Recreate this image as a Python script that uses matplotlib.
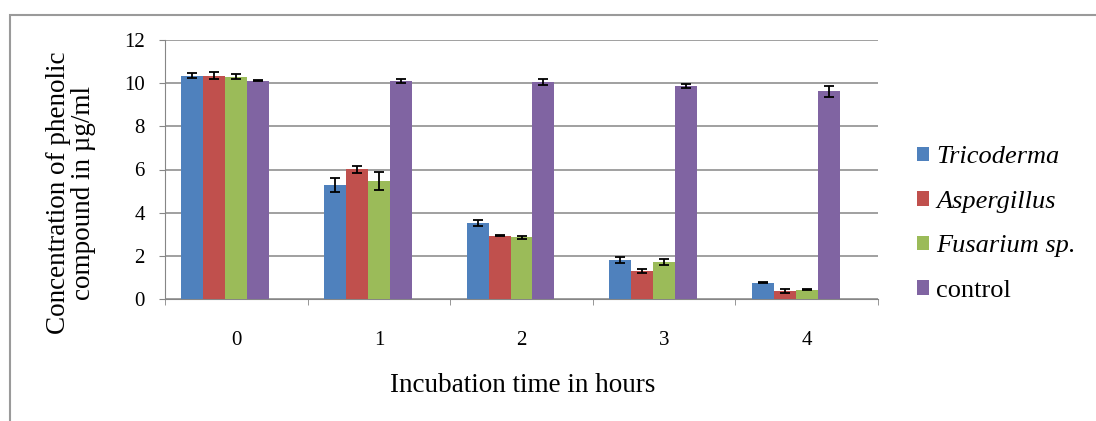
import numpy as np
import matplotlib.pyplot as plt
from matplotlib.patches import Rectangle

hours = ["0", "1", "2", "3", "4"]
series = ["Tricoderma", "Aspergillus", "Fusarium sp.", "control"]
tricoderma = [10.35, 5.29, 3.52, 1.80, 0.75]
aspergillus = [10.35, 6.01, 2.94, 1.31, 0.37]
fusarium = [10.29, 5.46, 2.85, 1.72, 0.43]
control = [10.12, 10.10, 10.04, 9.86, 9.62]
err_tricoderma = [0.13, 0.33, 0.12, 0.14, 0.03]
err_aspergillus = [0.17, 0.17, 0.03, 0.10, 0.09]
err_fusarium = [0.12, 0.41, 0.09, 0.15, 0.03]
err_control = [0.03, 0.10, 0.13, 0.09, 0.25]

values = [tricoderma, aspergillus, fusarium, control]
errors = [err_tricoderma, err_aspergillus, err_fusarium, err_control]
colors = ["#4F81BD", "#C0504D", "#9BBB59", "#8064A2"]

plt.rcParams["font.family"] = ["Liberation Serif", "DejaVu Serif"]

fig = plt.figure(figsize=(10.96, 4.21), dpi=100)
ax = fig.add_axes([165 / 1096, 1 - 299 / 421, 713 / 1096, 259 / 421])

x = np.arange(len(hours))
w = 0.154
for k in range(4):
    ax.bar(x + (k - 2) * w, values[k], w, color=colors[k], label=series[k],
           yerr=errors[k], capsize=3.5,
           error_kw=dict(ecolor="black", elinewidth=1.3, capthick=1.3), zorder=3)

ax.set_xlim(-0.5, 4.5)
ax.set_ylim(0, 12)
ax.set_yticks(np.arange(0, 13, 2))
ax.set_xticks(x)
ax.set_xticklabels(hours)
ax.set_xticks(np.arange(-0.5, 5, 1), minor=True)
ax.tick_params(axis="x", which="major", length=0, pad=23, labelsize=15)
ax.tick_params(axis="x", which="minor", length=4, color="#868686", direction="out")
ax.tick_params(axis="y", length=4.5, color="#868686", labelsize=15, pad=10)
ax.grid(axis="y", color="#868686", linewidth=1.1, zorder=0)
ax.set_axisbelow(True)
for s in ["top", "right"]:
    ax.spines[s].set_visible(False)
for s in ["left", "bottom"]:
    ax.spines[s].set_color("#868686")

fig.text(523 / 1096, 1 - 386 / 421, "Incubation time in hours", ha="center", va="center", fontsize=19.5)
fig.text(71 / 1096, 1 - 193 / 421, "Concentration of phenolic\ncompound in \u00b5g/ml",
         ha="center", va="center", rotation=90, fontsize=19.5, linespacing=1.0)

leg = fig.legend(loc="center left", bbox_to_anchor=(917 / 1096, 1 - 224 / 421),
                 frameon=False, fontsize=19, handlelength=0.47, handleheight=0.47,
                 handletextpad=0.25, labelspacing=0.85, borderpad=0, borderaxespad=0)
for t in leg.get_texts()[:3]:
    t.set_fontstyle("italic")

fig.patches.append(Rectangle((10 / 1096, -0.2), 1.2, 1.2 - 15 / 421, transform=fig.transFigure,
                             fill=False, edgecolor="#9a9a9a", linewidth=1.5))

fig.savefig("out.png", dpi=100)
